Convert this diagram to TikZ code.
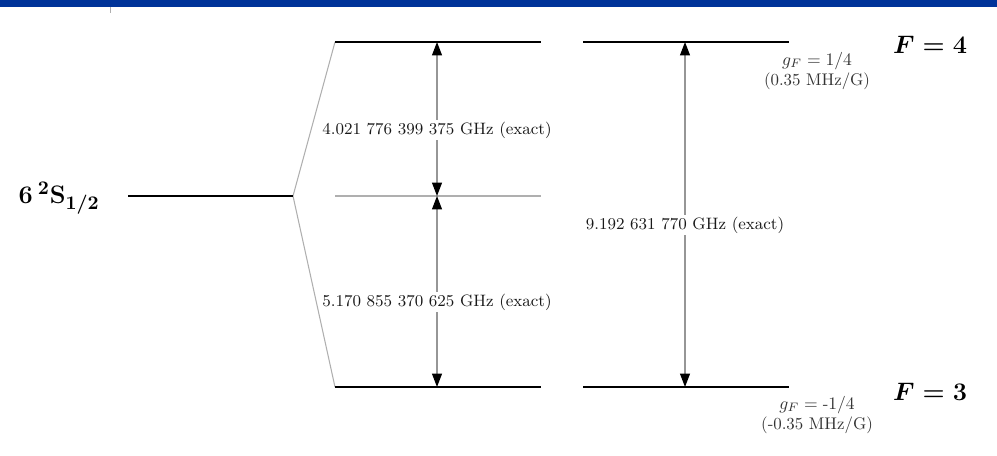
\documentclass[tikz,border=0pt]{standalone}
\usetikzlibrary{arrows.meta}
\definecolor{topblue}{RGB}{0,51,153}
\definecolor{shaft}{RGB}{150,150,150}
\definecolor{thinline}{RGB}{175,175,175}
\begin{document}
\begin{tikzpicture}[x=0.02cm,y=-0.02cm,
  level/.style={line width=1.5pt,black},
  guide/.style={line width=0.6pt,thinline},
  gap/.style={shaft,line width=0.7pt,
    {Triangle[length=0.27cm,width=0.2cm,color=black]}-{Triangle[length=0.27cm,width=0.2cm,color=black]}},
  freq/.style={fill=white,inner sep=1pt,font=\fontsize{9.4}{10}\selectfont,text=black!90},
  gfac/.style={align=center,inner sep=0pt,font=\fontsize{9.6}{11.6}\selectfont,text=black!80},
  bigl/.style={inner sep=0pt,font=\fontsize{15.5}{17}\selectfont\boldmath}]
\useasboundingbox (0,0) rectangle (997,456);
\fill[topblue] (0,0) rectangle (997,7);
\draw[thinline,line width=0.5pt] (110,7) -- (110,13);
% coordinates
\coordinate (s0) at (128,196);
\coordinate (s1) at (293,196);
\coordinate (a4) at (335,42);  \coordinate (b4) at (541,42);
\coordinate (c4) at (583,42);  \coordinate (d4) at (789,42);
\coordinate (a3) at (335,387); \coordinate (b3) at (541,387);
\coordinate (c3) at (583,387); \coordinate (d3) at (789,387);
\coordinate (am) at (335,196); \coordinate (bm) at (541,196);
\coordinate (u4) at (437,42);  \coordinate (um) at (437,196); \coordinate (u3) at (437,387);
\coordinate (r4) at (685,42);  \coordinate (r3) at (685,387);
% label
\node[bigl,anchor=east] (S) at (100,198) {$\mathbf{6\,{}^2S_{1/2}}$};
% split lines
\draw[guide] (a4) -- (s1) -- (a3);
\draw[guide] (am) -- (bm);
% levels
\draw[level] (s0) -- (s1);
\draw[level] (a4) -- (b4);
\draw[level] (c4) -- (d4);
\draw[level] (a3) -- (b3);
\draw[level] (c3) -- (d3);
% arrows
\draw[gap] (um) -- (u4);
\draw[gap] (um) -- (u3);
\draw[gap] (r3) -- (r4);
\node[freq] (f1) at (437,130) {4.021 776 399 375 GHz (exact)};
\node[freq] (f2) at (437,302) {5.170 855 370 625 GHz (exact)};
\node[freq] (f3) at (685,225) {9.192 631 770 GHz (exact)};
% g factors
\node[gfac] (g4) at (817,71) {$g_F = 1/4$\\(0.35 MHz/G)};
\node[gfac] (g3) at (817,415) {$g_F = \mbox{-}1/4$\\(-0.35 MHz/G)};
% F labels
\node[bigl,font=\fontsize{14}{15}\selectfont\boldmath] (F4) at (930,45) {$F=4$};
\node[bigl,font=\fontsize{14}{15}\selectfont\boldmath] (F3) at (930,392) {$F=3$};
\end{tikzpicture}
\end{document}
